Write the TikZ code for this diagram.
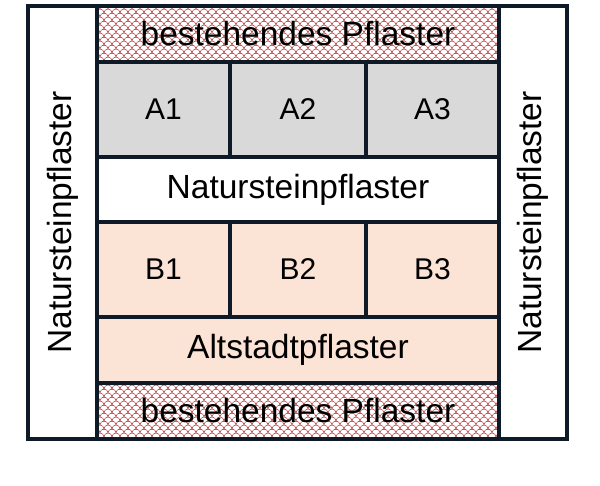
\documentclass[tikz,border=0pt]{standalone}
\usepackage{fontspec}
\setmainfont{Liberation Sans}
\usetikzlibrary{patterns}
\definecolor{edge}{HTML}{0E1A28}
\definecolor{grayfill}{HTML}{D9D9D9}
\definecolor{peach}{HTML}{FBE3D5}
\definecolor{hatchred}{HTML}{B83030}
\pgfdeclarepatternformonly{scales}{\pgfqpoint{-1pt}{-1pt}}{\pgfqpoint{9pt}{9pt}}{\pgfqpoint{8pt}{8pt}}{
  \pgfsetlinewidth{0.5pt}
  \pgfpathmoveto{\pgfqpoint{0pt}{0pt}}
  \pgfpatharc{180}{0}{4pt}
  \pgfpathmoveto{\pgfqpoint{-4pt}{4pt}}
  \pgfpatharc{180}{0}{4pt}
  \pgfpathmoveto{\pgfqpoint{4pt}{4pt}}
  \pgfpatharc{180}{0}{4pt}
  \pgfusepath{stroke}
}
\tikzset{
  cell/.style={draw=edge, line width=3.5pt, inner sep=0pt, font=\fontsize{33.5}{33.5}\selectfont, text=black},
  lbl/.style={font=\fontsize{30}{30}\selectfont},
}
\begin{document}
\begin{tikzpicture}[x=1pt,y=-1pt]
\useasboundingbox (0,0) rectangle (600,485);
% hatched areas
\fill[white] (97,6) rectangle (499,62);
\fill[pattern=scales, pattern color=hatchred] (97,6) rectangle (499,62);
\fill[white] (97,383) rectangle (499,439);
\fill[pattern=scales, pattern color=hatchred] (97,383) rectangle (499,439);
% cells
\node[cell, minimum width=402pt, minimum height=56pt] (top) at (298,34) {bestehendes Pflaster};
\node[cell, lbl, fill=grayfill, minimum width=133pt, minimum height=95pt] (a1) at (163.5,109.5) {A1};
\node[cell, lbl, fill=grayfill, minimum width=136pt, minimum height=95pt] (a2) at (298,109.5) {A2};
\node[cell, lbl, fill=grayfill, minimum width=133pt, minimum height=95pt] (a3) at (432.5,109.5) {A3};
\node[cell, fill=white, minimum width=402pt, minimum height=65pt] (mid) at (298,189.5) {Natursteinpflaster};
\node[cell, lbl, fill=peach, minimum width=133pt, minimum height=95pt] (b1) at (163.5,269.5) {B1};
\node[cell, lbl, fill=peach, minimum width=136pt, minimum height=95pt] (b2) at (298,269.5) {B2};
\node[cell, lbl, fill=peach, minimum width=133pt, minimum height=95pt] (b3) at (432.5,269.5) {B3};
\node[cell, fill=peach, minimum width=402pt, minimum height=66pt] (alt) at (298,350) {Altstadtpflaster};
\node[cell, minimum width=402pt, minimum height=56pt] (bot) at (298,411) {bestehendes Pflaster};
\node[cell, fill=white, minimum width=69pt, minimum height=433pt] (left) at (62.5,222.5) {};
\node[cell, fill=white, minimum width=68pt, minimum height=433pt] (right) at (533,222.5) {};
\node[font=\fontsize{33.5}{33.5}\selectfont, rotate=90] (ltext) at (left.center) {Natursteinpflaster};
\node[font=\fontsize{33.5}{33.5}\selectfont, rotate=90] (rtext) at (right.center) {Natursteinpflaster};
\end{tikzpicture}
\end{document}
